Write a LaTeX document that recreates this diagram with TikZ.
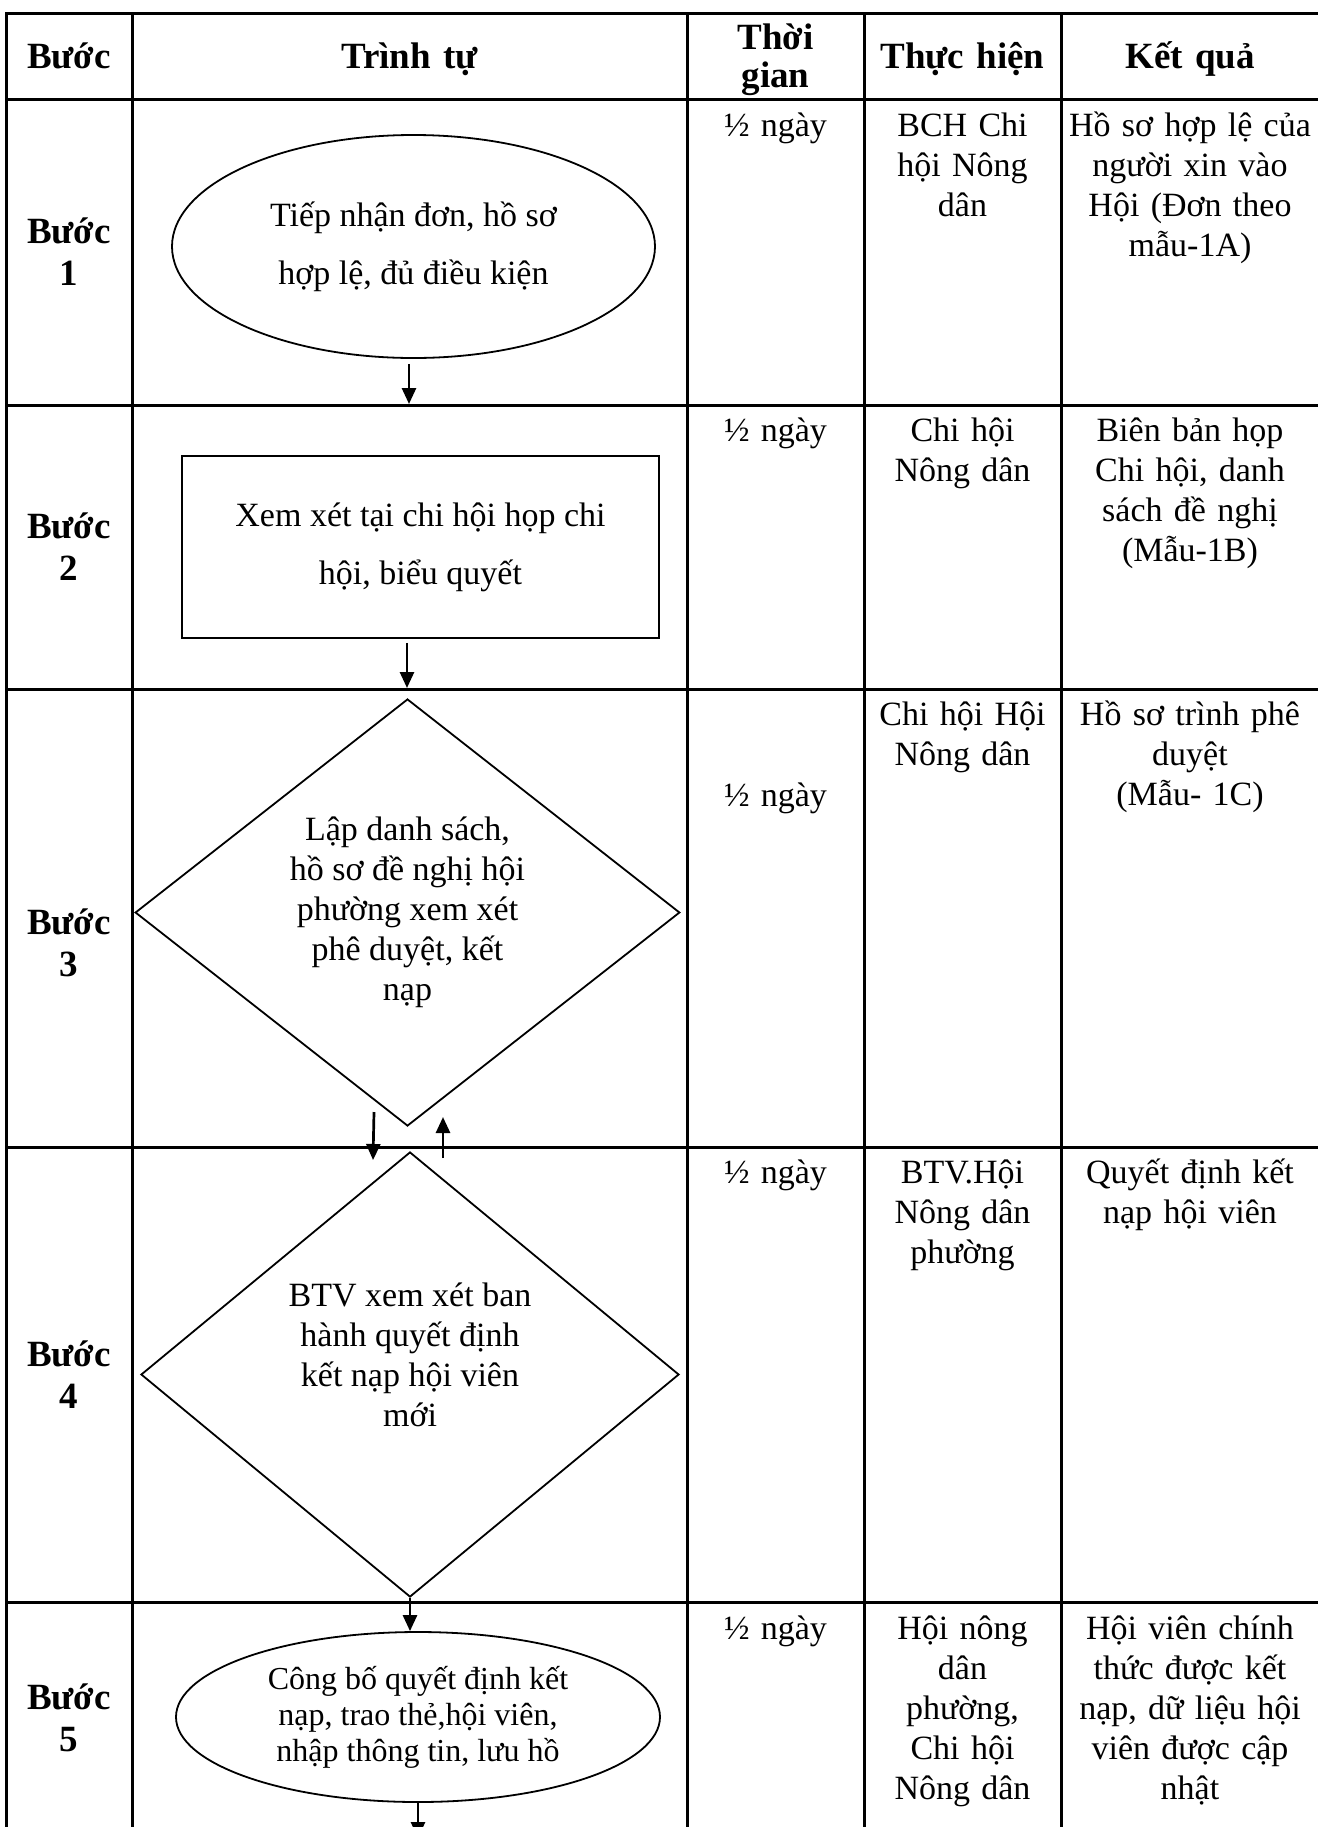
\documentclass[tikz,border=0pt]{standalone}
\usepackage{fontspec}
\setmainfont{Liberation Serif}
\usetikzlibrary{shapes.geometric,arrows.meta}

\newcommand\bodyfont{\fontsize{17}{20}\selectfont}
\newcommand\hdrfont{\fontsize{18.5}{19}\selectfont\bfseries}
\newcommand\lblfont{\fontsize{18.5}{21}\selectfont\bfseries}

\begin{document}
\begin{tikzpicture}[x=0.5pt, y=-0.5pt,
	tabline/.style={line width=1.5pt, line cap=rect},
	outline/.style={draw, line width=0.9pt, align=center, inner sep=0pt},
	arr/.style={line width=1.35pt, -{Triangle[width=7pt, length=8pt]}},
	hdr/.style={font=\hdrfont, align=center, anchor=base, inner sep=0pt, text width=124pt},
	cell/.style={font=\bodyfont, align=center, anchor=base, inner sep=0pt, text width=124pt},
	steplbl/.style={font=\lblfont, align=center, inner sep=0pt}]

\useasboundingbox (0,0) rectangle (1318,1827);

\foreach \x in {6, 132, 687, 864, 1061} { \draw[tabline] (\x,13) -- (\x,1827); }
\foreach \y in {13, 99.5, 405, 689, 1147, 1602} { \draw[tabline] (6,\y) -- (1318,\y); }

\node[hdr] (hd1) at (69,68) {Bước};
\node[hdr] (hd2) at (409.5,68) {Trình tự};
\node[hdr] (hd3) at (775.5,49) {Thời\\gian};
\node[hdr] (hd4) at (962.5,68) {Thực hiện};
\node[hdr] (hd5) at (1190,68) {Kết quả};

\foreach \n/\y in {1/252, 2/547, 3/943, 4/1374.5, 5/1718} {
	\node[steplbl] (b\n) at (69,\y) {Bước\\\n};
}

\foreach \n/\y in {1/136, 2/441, 3/806, 4/1183, 5/1639} {
	\node[cell] (t\n) at (775.5,\y) {½ ngày};
}

\node[cell] (th1) at (962.5,136) {BCH Chi\\hội Nông\\dân};
\node[cell] (kq1) at (1190,136) {Hồ sơ hợp lệ của\\người xin vào\\Hội (Đơn theo\\mẫu-1A)};
\node[cell] (th2) at (962.5,441) {Chi hội\\Nông dân};
\node[cell] (kq2) at (1190,441) {Biên bản họp\\Chi hội, danh\\sách đề nghị\\(Mẫu-1B)};
\node[cell] (th3) at (962.5,725) {Chi hội Hội\\Nông dân};
\node[cell] (kq3) at (1190,725) {Hồ sơ trình phê\\duyệt\\(Mẫu- 1C)};
\node[cell] (th4) at (962.5,1183) {BTV.Hội\\Nông dân\\phường};
\node[cell] (kq4) at (1190,1183) {Quyết định kết\\nạp hội viên};
\node[cell] (th5) at (962.5,1639) {Hội nông\\dân\\phường,\\Chi hội\\Nông dân};
\node[cell] (kq5) at (1190,1639) {Hội viên chính\\thức được kết\\nạp, dữ liệu hội\\viên được cập\\nhật};

\node[outline, ellipse, minimum width=241.5pt, minimum height=111.5pt, font=\fontsize{17}{29}\selectfont] (e1) at (413.5,246.5) {Tiếp nhận đơn, hồ sơ\\hợp lệ, đủ điều kiện};
\node[outline, rectangle, minimum width=238.5pt, minimum height=91pt, font=\fontsize{17}{29}\selectfont] (r2) at (420.5,547) {Xem xét tại chi hội họp chi\\hội, biểu quyết};
\node[outline, diamond, aspect=1.27, minimum width=272.3pt, minimum height=213.5pt, font=\fontsize{17}{20}\selectfont] (d3) at (407.5,912.5) {Lập danh sách,\\hồ sơ đề nghị hội\\phường xem xét\\phê duyệt, kết\\nạp};
\node[outline, diamond, aspect=1.2, minimum width=269pt, minimum height=222.5pt, font=\fontsize{17}{20}\selectfont] (d4) at (410,1374.5) {BTV xem xét ban\\hành quyết định\\kết nạp hội viên\\mới\\\mbox{}};
\node[outline, ellipse, minimum width=242pt, minimum height=85pt, font=\fontsize{16}{18}\selectfont] (e5) at (418,1717) {Công bố quyết định kết\\nạp, trao thẻ,hội viên,\\nhập thông tin, lưu hồ};

\coordinate (end1) at (409,404);
\coordinate (end2) at (407,688);
\coordinate (dn0) at (374,1112);
\coordinate (dn1) at (373,1160);
\coordinate (up0) at (443,1158);
\coordinate (up1) at (443,1117);
\coordinate (end5) at (418,1838);

\draw[arr, shorten <=2.5pt] (e1.south -| end1) -- (end1);
\draw[arr, shorten <=2pt] (r2.south -| end2) -- (end2);
\draw[arr] (dn0) -- (dn1);
\draw[arr] (up0) -- (up1);
\draw[arr] (d4.south) -- (d4.south |- e5.north);
\draw[arr] (e5.south) -- (end5);

\end{tikzpicture}
\end{document}
